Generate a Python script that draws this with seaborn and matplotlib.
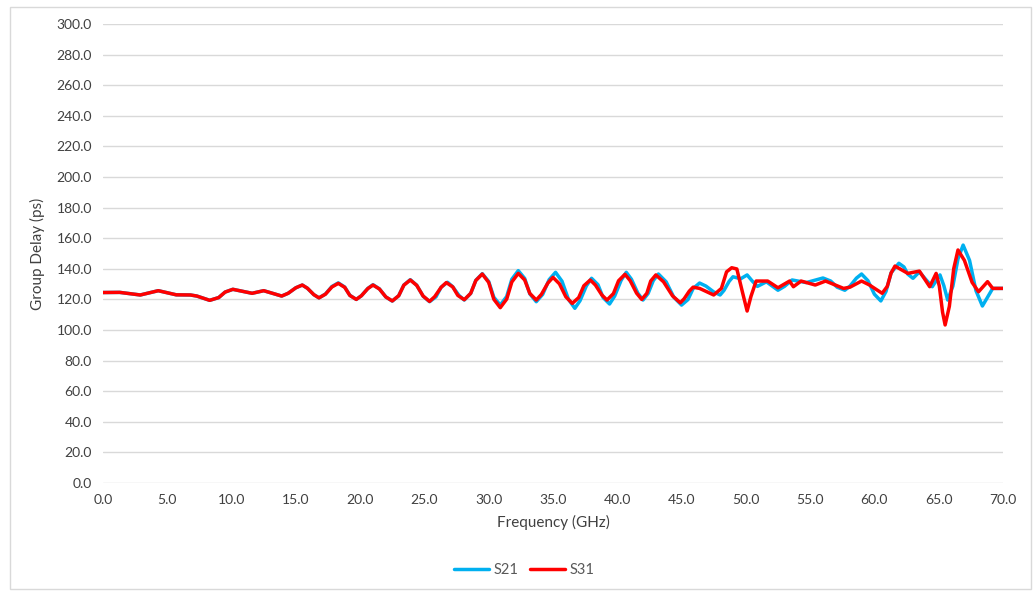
import pandas as pd
import matplotlib
matplotlib.use("Agg")
import matplotlib.pyplot as plt
import seaborn as sns
from matplotlib.patches import Rectangle

# S21 group delay (GHz, ps)
s21_freq = [0.0, 1.3, 2.9, 4.3, 5.7, 6.8, 7.3, 8.3, 9.0, 9.5, 10.1, 11.6, 12.5, 13.9, 14.4, 15.0,
            15.5, 15.9, 16.4, 16.8, 17.3, 17.8, 18.3, 18.8, 19.2, 19.7, 20.1, 20.6, 21.0, 21.5,
            22.0, 22.5, 23.0, 23.4, 23.9, 24.4, 24.9, 25.4, 25.9, 26.3, 26.8, 27.2, 27.7, 28.1,
            28.6, 29.0, 29.5, 30.0, 30.4, 30.9, 31.4, 31.8, 32.3, 32.8, 33.2, 33.7, 34.2, 34.7,
            35.2, 35.7, 36.2, 36.7, 37.1, 37.6, 38.0, 38.5, 38.9, 39.4, 39.8, 40.3, 40.7, 41.1,
            41.6, 42.0, 42.4, 42.8, 43.2, 43.8, 44.4, 45.0, 45.5, 45.9, 46.4, 46.9, 47.5, 48.0,
            48.3, 48.7, 49.0, 49.6, 50.1, 50.5, 50.9, 51.6, 52.5, 53.0, 53.6, 54.7, 56.0, 56.6,
            57.1, 57.7, 58.1, 58.6, 59.0, 59.5, 60.0, 60.5, 60.9, 61.3, 61.9, 62.3, 62.6, 63.0,
            63.5, 64.0, 64.5, 65.1, 65.4, 65.7, 66.1, 66.5, 66.9, 67.4, 67.9, 68.4, 68.8, 69.2,
            70.0]
s21_delay = [124.5, 124.6, 122.9, 125.7, 123.0, 122.9, 122.2, 119.4, 121.2, 124.8, 126.6, 124.0,
             125.7, 122.2, 124.0, 127.6, 129.4, 127.3, 123.1, 121.0, 123.5, 128.4, 130.8, 128.1,
             122.7, 120.0, 122.4, 127.2, 129.6, 126.9, 121.6, 118.9, 122.4, 129.4, 132.9, 129.3,
             122.1, 118.5, 121.7, 128.0, 131.2, 128.3, 122.5, 119.6, 123.9, 132.5, 136.8, 131.7,
             121.4, 116.3, 121.9, 133.2, 138.8, 133.7, 123.6, 118.5, 123.3, 132.9, 137.7, 131.9,
             120.1, 114.2, 119.1, 128.9, 133.8, 129.6, 121.2, 117.0, 122.2, 132.5, 137.7, 133.2,
             124.1, 119.6, 123.9, 132.3, 136.6, 131.5, 121.4, 116.3, 119.9, 127.1, 130.7, 128.7,
             124.9, 122.9, 125.9, 131.8, 134.8, 133.5, 136.0, 132.0, 128.5, 131.5, 126.0, 128.5,
             132.7, 131.0, 134.0, 132.0, 128.0, 126.0, 128.7, 133.9, 136.6, 132.2, 123.4, 119.0,
             125.2, 137.4, 143.6, 141.2, 136.5, 133.8, 138.0, 133.0, 128.3, 136.0, 129.0, 119.6,
             128.6, 146.5, 155.5, 145.5, 125.7, 115.7, 121.5, 127.2, 127.2]

# S31 group delay (GHz, ps)
s31_freq = [0.0, 1.3, 2.9, 4.3, 5.7, 6.8, 7.3, 8.3, 9.0, 9.5, 10.1, 11.6, 12.5, 13.9, 14.4, 15.0,
            15.5, 15.9, 16.4, 16.8, 17.3, 17.8, 18.3, 18.8, 19.2, 19.7, 20.1, 20.6, 21.0, 21.5,
            22.0, 22.5, 23.0, 23.4, 23.9, 24.4, 24.9, 25.4, 25.8, 26.3, 26.7, 27.2, 27.6, 28.1,
            28.6, 29.0, 29.5, 30.0, 30.4, 30.9, 31.4, 31.8, 32.3, 32.8, 33.2, 33.7, 34.1, 34.6,
            35.0, 35.5, 36.0, 36.5, 37.0, 37.4, 37.9, 38.3, 38.8, 39.2, 39.7, 40.1, 40.6, 41.0,
            41.5, 41.9, 42.3, 42.6, 43.0, 43.6, 44.3, 44.9, 45.2, 45.6, 45.9, 46.4, 47.5, 48.1,
            48.5, 48.9, 49.3, 49.7, 50.1, 50.4, 50.8, 51.7, 52.5, 53.4, 53.7, 54.3, 55.4, 56.2,
            57.6, 58.1, 59.0, 59.6, 60.6, 61.0, 61.3, 61.6, 62.6, 63.5, 64.3, 64.8, 65.05, 65.3,
            65.5, 65.83, 66.17, 66.5, 67.0, 67.6, 68.1, 68.8, 69.2, 70.0]
s31_delay = [124.5, 124.6, 122.9, 125.7, 123.0, 122.9, 122.2, 119.4, 121.2, 124.8, 126.6, 124.0,
             125.7, 122.2, 124.0, 127.6, 129.4, 127.3, 123.1, 121.0, 123.4, 128.1, 130.5, 127.9,
             122.6, 120.0, 122.4, 127.1, 129.4, 126.8, 121.6, 119.0, 122.4, 129.3, 132.7, 129.2,
             122.2, 118.7, 121.8, 127.9, 131.0, 128.2, 122.6, 119.8, 124.0, 132.4, 136.6, 131.1,
             120.1, 114.6, 120.2, 131.4, 137.0, 132.7, 123.9, 119.6, 123.3, 130.7, 134.4, 130.2,
             121.7, 117.4, 121.2, 128.9, 132.7, 129.4, 122.9, 119.6, 123.8, 132.2, 136.4, 132.3,
             124.1, 120.0, 124.0, 132.0, 136.0, 131.5, 122.3, 117.8, 120.4, 125.4, 128.0, 127.2,
             122.9, 127.2, 138.0, 140.7, 139.9, 126.0, 112.4, 122.0, 132.0, 132.0, 127.6, 132.0,
             128.3, 132.0, 129.4, 132.0, 127.2, 128.0, 132.0, 129.5, 124.0, 128.5, 137.3, 141.8,
             137.0, 138.5, 128.3, 137.0, 128.6, 111.7, 103.3, 115.5, 140.1, 152.3, 145.5, 131.1,
             125.0, 131.6, 127.2, 127.2]

series_names = ["S21", "S31"]
y_ticks = [0, 20, 40, 60, 80, 100, 120, 140, 160, 180, 200, 220, 240, 260, 280, 300]
x_ticks = [0, 5, 10, 15, 20, 25, 30, 35, 40, 45, 50, 55, 60, 65, 70]

df = pd.concat([
    pd.DataFrame({"freq": s21_freq, "delay": s21_delay, "series": series_names[0]}),
    pd.DataFrame({"freq": s31_freq, "delay": s31_delay, "series": series_names[1]}),
], ignore_index=True)

sns.set_theme(style="white")
plt.rcParams["font.family"] = ["Lato", "DejaVu Sans"]

fig = plt.figure(figsize=(10.34, 5.91), dpi=100)
ax = fig.add_axes([0.0996, 0.1827, 0.8704, 0.7767])

# outer chart frame
fig.patches.append(Rectangle((10 / 1034, 2 / 591), 1021 / 1034, 582 / 591,
                             transform=fig.transFigure, fill=False,
                             edgecolor="#d9d9d9", linewidth=1))

palette = {"S21": "#00B0F0", "S31": "#FF0000"}
sns.lineplot(data=df, x="freq", y="delay", hue="series", palette=palette,
             estimator=None, linewidth=2.5, ax=ax, legend=False,
             solid_joinstyle="round", solid_capstyle="round")

ax.set_xlim(0, 70)
ax.set_ylim(0, 300)
ax.set_xticks(x_ticks)
ax.set_xticklabels([f"{v:.1f}" for v in x_ticks])
ax.set_yticks(y_ticks)
ax.set_yticklabels([f"{v:.1f}" for v in y_ticks])
ax.tick_params(axis="both", length=0, labelsize=10, labelcolor="#404040", pad=8)
ax.grid(True, axis="y", color="#d9d9d9", linewidth=1)
ax.grid(False, axis="x")
ax.set_axisbelow(True)
for side in ["top", "right", "left", "bottom"]:
    ax.spines[side].set_visible(False)

ax.set_xlabel("Frequency (GHz)", fontsize=11, color="#404040", labelpad=6)
ax.set_ylabel("Group Delay (ps)", fontsize=11, color="#404040", labelpad=8)

handles = [plt.Line2D([], [], color=palette[n], linewidth=2.5) for n in series_names]
fig.legend(handles, series_names, loc="center", bbox_to_anchor=(0.507, 0.035), ncol=2,
           frameon=False, fontsize=10.5, labelcolor="#595959", handlelength=2.4,
           columnspacing=0.8, handletextpad=0.3)

fig.savefig("out.png", dpi=100)
